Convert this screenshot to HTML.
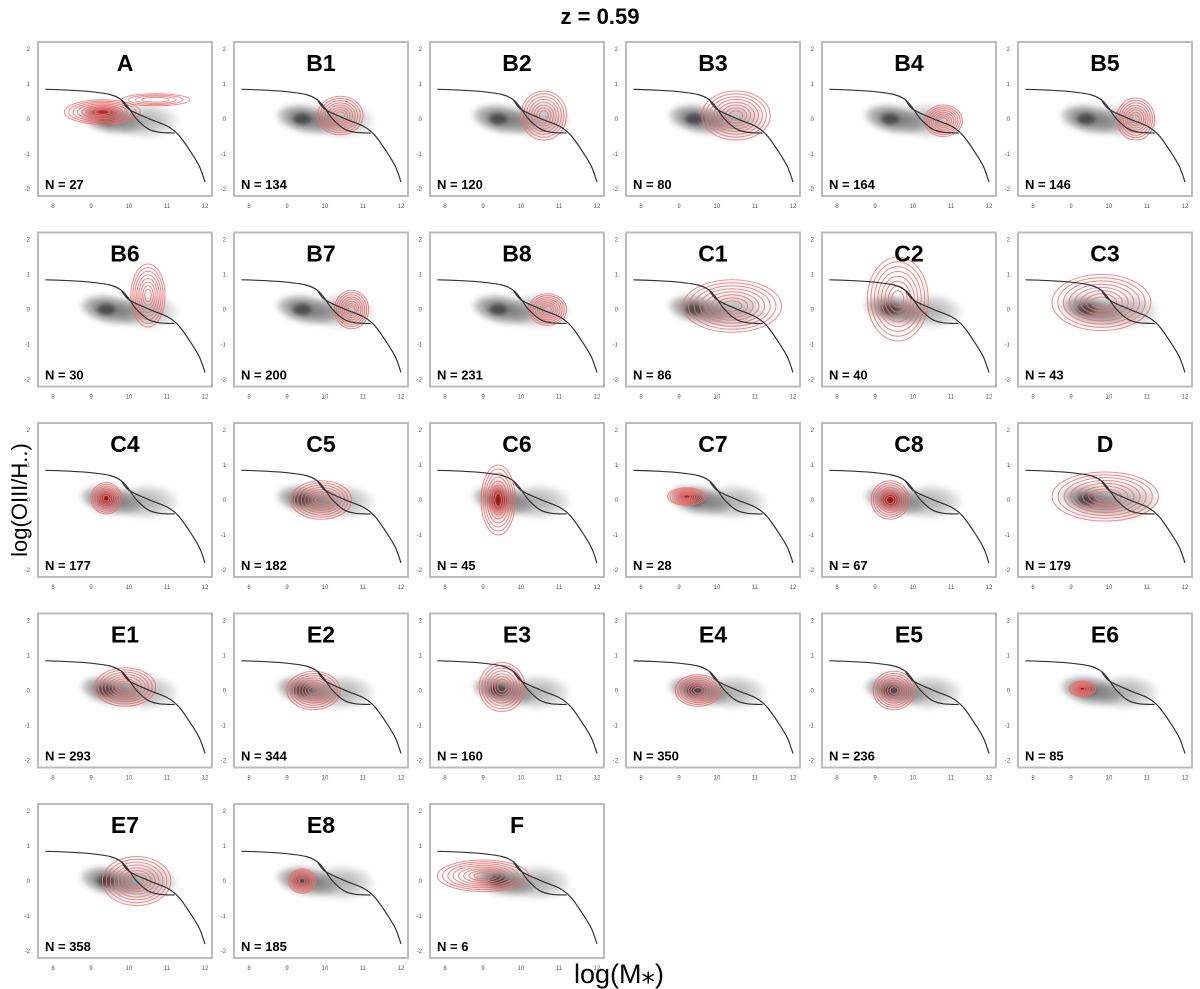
<!DOCTYPE html>
<html><head><meta charset="utf-8"><style>
body{margin:0;background:#fff;width:1200px;height:989px;overflow:hidden;font-family:"Liberation Sans",sans-serif}
svg{position:absolute;left:0;top:0}
</style></head><body>
<svg id="c" width="1200" height="989" xmlns="http://www.w3.org/2000/svg">
<text x="600" y="24" text-anchor="middle" font-size="22" font-weight="bold">z = 0.59</text>
<text transform="translate(27,500) rotate(-90)" text-anchor="middle" font-size="22">log(OIII/H..)</text>
<text x="574" y="983" font-size="27">log(M⁎)</text>
</svg>
<script>
const names=["A","B1","B2","B3","B4","B5","B6","B7","B8","C1","C2","C3","C4","C5","C6","C7","C8","D","E1","E2","E3","E4","E5","E6","E7","E8","F"];
const counts=[27,134,120,80,164,146,30,200,231,86,40,43,177,182,45,28,67,179,293,344,160,350,236,85,358,185,6];
const redX=[9.3,10.4,10.6,10.5,10.8,10.7,10.5,10.7,10.7,10.4,9.6,9.8,9.4,9.9,9.4,9.2,9.4,9.9,9.9,9.7,9.5,9.5,9.5,9.3,10.2,9.4,9.0];
const redY=[0.2,0.1,0.1,0.1,-0.05,0.0,0.4,0.0,0.0,0.1,0.3,0.2,0.05,0.0,0.0,0.1,0.0,0.1,0.1,0.0,0.1,0.0,0.0,0.05,0.0,0.0,0.15];
const redW=[1.0,0.6,0.6,0.9,0.5,0.5,0.45,0.45,0.5,1.3,0.8,1.3,0.4,0.8,0.45,0.5,0.5,1.4,0.8,0.7,0.6,0.6,0.55,0.35,0.9,0.35,1.2];
const redH=[0.35,0.55,0.7,0.7,0.45,0.6,0.9,0.55,0.45,0.75,1.2,0.8,0.45,0.55,1.0,0.25,0.55,0.7,0.55,0.55,0.7,0.45,0.55,0.22,0.7,0.35,0.45];
const redFill=[1,0,0,0,0,0,0,0,0,0,0,0,1,0,1,1,1,0,0,0,0,0,0,1,0,0,0];
const xTicks=[8,9,10,11,12], yTicks=[2,1,0,-1,-2];
const curveA=[[7.8,0.85],[8.5,0.82],[9,0.78],[9.5,0.7],[9.8,0.55],[10,0.3],[10.2,0.0],[10.5,-0.28],[10.8,-0.38],[11.2,-0.4]];
const curveB=[[9.8,0.55],[10,0.28],[10.5,0.02],[11,-0.2],[11.3,-0.45],[11.6,-0.9],[11.85,-1.35],[12,-1.8]];
const NS="http://www.w3.org/2000/svg", svg=document.getElementById('c');
function mk(t,a,p){const e=document.createElementNS(NS,t);for(const k in a)e.setAttribute(k,a[k]);(p||svg).appendChild(e);return e;}
function smooth(pts){let d='M'+pts[0][0].toFixed(1)+','+pts[0][1].toFixed(1);
  for(let i=0;i<pts.length-1;i++){const p0=pts[i-1]||pts[i],p1=pts[i],p2=pts[i+1],p3=pts[i+2]||p2;
    const c1=[p1[0]+(p2[0]-p0[0])/6,p1[1]+(p2[1]-p0[1])/6],c2=[p2[0]-(p3[0]-p1[0])/6,p2[1]-(p3[1]-p1[1])/6];
    d+=` C${c1[0].toFixed(1)},${c1[1].toFixed(1)} ${c2[0].toFixed(1)},${c2[1].toFixed(1)} ${p2[0].toFixed(1)},${p2[1].toFixed(1)}`;}
  return d;}
const defs=mk('defs',{});
const rg=mk('radialGradient',{id:'rf'},defs);
mk('stop',{offset:'0','stop-color':'#b00000','stop-opacity':'0.8'},rg);
mk('stop',{offset:'1','stop-color':'#ff6060','stop-opacity':'0'},rg);
const bl=mk('filter',{id:'bl',x:'-50%',y:'-50%',width:'200%',height:'200%'},defs);
mk('feGaussianBlur',{stdDeviation:'2'},bl);
names.forEach((nm,i)=>{
  const col=i%6,row=Math.floor(i/6);
  const X0=38+col*196,Y0=42+row*190.5;
  const sx=v=>X0+15+(v-8)*38, sy=v=>Y0+77-v*35;
  const g=mk('g',{});
  
  
  const box=mk('rect',{x:X0,y:Y0,width:174,height:154,fill:'#fff',stroke:'#bbb','stroke-width':2},g);
  
  
  const gk=mk('g',{filter:'url(#bl)'},g);
  
  
  for(let k=0;k<7;k++){const f=1-k*0.13;
    mk('ellipse',{cx:sx(10.45),cy:sy(-0.05),rx:0.85*38*f,ry:0.5*35*f,fill:'#777','fill-opacity':0.1},gk);}
  for(let k=0;k<8;k++){const f=1-k*0.11;
    mk('ellipse',{cx:sx(9.55-0.15*k/8),cy:sy(0.0),rx:0.85*38*f,ry:0.42*35*f,fill:'#333','fill-opacity':0.13,transform:`rotate(10 ${sx(9.5)} ${sy(0)})`},gk);}
  mk('ellipse',{cx:sx(9.4),cy:sy(0),rx:9,ry:5.5,fill:'#222','fill-opacity':0.55},gk);
  const rgp=mk('g',{},g);
  
  
  const cx=sx(redX[i]),cy=sy(redY[i]),rx=redW[i]*38,ry=redH[i]*35;
  if(redFill[i]) mk('ellipse',{cx:cx,cy:cy,rx:rx*0.7,ry:ry*0.7,fill:'url(#rf)'},rgp);
  for(let k=0;k<8;k++){const f=1-k*0.115;
    mk('ellipse',{cx:cx,cy:cy,rx:rx*f,ry:ry*f,fill:'none',stroke:'#f07070','stroke-opacity':0.8,'stroke-width':1.1},rgp);}
  if(nm==='A'){for(let k=0;k<4;k++){const f=1-k*0.2;mk('ellipse',{cx:sx(10.7),cy:sy(0.55),rx:0.9*38*f,ry:0.17*35*f,fill:'none',stroke:'#f07070','stroke-opacity':0.8},rgp);}}
  [curveA,curveB].forEach(c=>{
    const p=mk('path',{d:smooth(c.map(q=>[sx(q[0]),sy(q[1])])),fill:'none',stroke:'#333','stroke-width':1.2},g);
    
    
  });
  xTicks.forEach(t=>{const e=mk('text',{x:sx(t),y:Y0+166,'font-size':6,fill:'#555','text-anchor':'middle'},g);e.textContent=t;
    
    });
  yTicks.forEach(t=>{const e=mk('text',{x:X0-8,y:sy(t)+2,'font-size':6,fill:'#555','text-anchor':'end'},g);e.textContent=t;
    
    });
  const ti=mk('text',{x:X0+87,y:Y0+29,'font-size':23,'font-weight':'bold','text-anchor':'middle'},g);ti.textContent=nm;
  
  
  const nt=mk('text',{x:X0+7,y:Y0+147,'font-size':13,'font-weight':'bold'},g);nt.textContent='N = '+counts[i];
  
  
});
</script>
</body></html>
